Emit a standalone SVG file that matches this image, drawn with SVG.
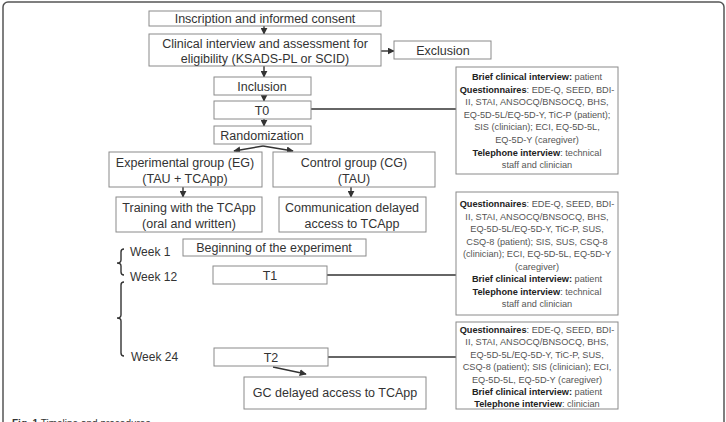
<svg xmlns="http://www.w3.org/2000/svg" width="726" height="422" viewBox="0 0 726 422">
<style>
.bx{fill:#fff;stroke:#8a8a8a;stroke-width:1}
.t{font-family:"Liberation Sans",Arial,sans-serif;font-size:12.5px;fill:#333;text-anchor:middle}
.s{font-family:"Liberation Sans",Arial,sans-serif;font-size:9.2px;fill:#555;text-anchor:middle}
.s tspan.b{font-weight:bold;fill:#222}
.w{font-family:"Liberation Sans",Arial,sans-serif;font-size:12px;fill:#333}
.c{stroke:#333;stroke-width:1.4;fill:none}
.br{stroke:#333;stroke-width:1.4;fill:none}
</style>
<defs>
<marker id="ah" viewBox="0 0 10 10" refX="9" refY="5" markerWidth="5" markerHeight="5" orient="auto">
<path d="M0,0 L10,5 L0,10 z" fill="#333"/>
</marker>
</defs>
<rect x="3" y="2" width="721" height="440" rx="5" fill="#fff" stroke="#555" stroke-width="1.5"/>

<g id="connectors">
<line class="c" x1="264" y1="26" x2="264" y2="34" marker-end="url(#ah)"/>
<line class="c" x1="381" y1="51" x2="394" y2="51" marker-end="url(#ah)"/>
<line class="c" x1="264" y1="66" x2="264" y2="77" marker-end="url(#ah)"/>
<line class="c" x1="264" y1="95" x2="264" y2="101" marker-end="url(#ah)"/>
<line class="c" x1="264" y1="119" x2="264" y2="126" marker-end="url(#ah)"/>
<line class="c" x1="311" y1="109" x2="456" y2="109"/>
<line class="c" x1="263" y1="146" x2="234" y2="151" marker-end="url(#ah)"/>
<line class="c" x1="263" y1="146" x2="293" y2="151" marker-end="url(#ah)"/>
<line class="c" x1="183" y1="187" x2="183" y2="197" marker-end="url(#ah)"/>
<line class="c" x1="351" y1="187" x2="351" y2="197" marker-end="url(#ah)"/>
<line class="c" x1="327" y1="275" x2="456" y2="275"/>
<line class="c" x1="328" y1="357" x2="456" y2="357"/>
<line class="c" x1="273" y1="367" x2="306" y2="374" marker-end="url(#ah)"/>
<path class="br" d="M124,249 Q121,249 121,252 L121,260 Q121,263 117,263 Q121,263 121,266 L121,272 Q121,275 124,275"/>
<path class="br" d="M124,282 Q121,282 121,285 L121,315 Q121,318 117,318 Q121,318 121,321 L121,353 Q121,356 124,356"/>
</g>

<g id="inscription"><rect class="bx" x="149" y="11" width="232" height="15"/><text class="t" x="265" y="23">Inscription and informed consent</text></g>
<g id="clinical"><rect class="bx" x="149" y="34" width="232" height="32"/><text class="t" x="265" y="48">Clinical interview and assessment for</text><text class="t" x="265" y="63">eligibility (KSADS-PL or SCID)</text></g>
<g id="exclusion"><rect class="bx" x="394" y="41" width="97" height="18"/><text class="t" x="443" y="55">Exclusion</text></g>
<g id="inclusion"><rect class="bx" x="214" y="77" width="97" height="18"/><text class="t" x="262" y="91">Inclusion</text></g>
<g id="t0"><rect class="bx" x="214" y="101" width="97" height="18"/><text class="t" x="262" y="115">T0</text></g>
<g id="randomization"><rect class="bx" x="214" y="126" width="97" height="18"/><text class="t" x="262" y="140">Randomization</text></g>
<g id="eg"><rect class="bx" x="109" y="152" width="153" height="35"/><text class="t" x="185" y="167">Experimental group (EG)</text><text class="t" x="185" y="183">(TAU + TCApp)</text></g>
<g id="cg"><rect class="bx" x="273" y="152" width="162" height="35"/><text class="t" x="354" y="167">Control group (CG)</text><text class="t" x="354" y="183">(TAU)</text></g>
<g id="training"><rect class="bx" x="116" y="197" width="146" height="35"/><text class="t" x="189" y="212">Training with the TCApp</text><text class="t" x="189" y="228">(oral and written)</text></g>
<g id="communication"><rect class="bx" x="279" y="197" width="147" height="35"/><text class="t" x="352" y="212">Communication delayed</text><text class="t" x="352" y="228">access to TCApp</text></g>
<g id="week1"><text class="w" x="130" y="256">Week 1</text></g>
<g id="beginning"><rect class="bx" x="183" y="239" width="183" height="17"/><text class="t" x="274" y="252">Beginning of the experiment</text></g>
<g id="week12"><text class="w" x="130" y="281">Week 12</text></g>
<g id="t1"><rect class="bx" x="213" y="266" width="114" height="18"/><text class="t" x="270" y="280">T1</text></g>
<g id="week24"><text class="w" x="131" y="361">Week 24</text></g>
<g id="t2"><rect class="bx" x="214" y="348" width="114" height="18"/><text class="t" x="271" y="362">T2</text></g>
<g id="gc"><rect class="bx" x="244" y="377" width="182" height="32"/><text class="t" x="335" y="397">GC delayed access to TCApp</text></g>

<g id="info-t0"><rect class="bx" x="456" y="67" width="162" height="107"/>
<text class="s" x="537" y="80"><tspan class="b">Brief clinical interview:</tspan> patient</text>
<text class="s" x="537" y="92.6"><tspan class="b">Questionnaires</tspan>: EDE-Q, SEED, BDI-</text>
<text class="s" x="537" y="105.2">II, STAI, ANSOCQ/BNSOCQ, BHS,</text>
<text class="s" x="537" y="117.8">EQ-5D-5L/EQ-5D-Y, TiC-P (patient);</text>
<text class="s" x="537" y="130.4">SIS (clinician); ECI, EQ-5D-5L,</text>
<text class="s" x="537" y="143">EQ-5D-Y (caregiver)</text>
<text class="s" x="537" y="155.6"><tspan class="b">Telephone interview</tspan>: technical</text>
<text class="s" x="537" y="168.2">staff and clinician</text>
</g>
<g id="info-t1"><rect class="bx" x="456" y="192" width="162" height="123"/>
<text class="s" x="537" y="207"><tspan class="b">Questionnaires</tspan>: EDE-Q, SEED, BDI-</text>
<text class="s" x="537" y="219.5">II, STAI, ANSOCQ/BNSOCQ, BHS,</text>
<text class="s" x="537" y="232">EQ-5D-5L/EQ-5D-Y, TiC-P, SUS,</text>
<text class="s" x="537" y="244.5">CSQ-8 (patient); SIS, SUS, CSQ-8</text>
<text class="s" x="537" y="257">(clinician); ECI, EQ-5D-5L, EQ-5D-Y</text>
<text class="s" x="537" y="269.5">(caregiver)</text>
<text class="s" x="537" y="282"><tspan class="b">Brief clinical interview:</tspan> patient</text>
<text class="s" x="537" y="294.5"><tspan class="b">Telephone interview</tspan>: technical</text>
<text class="s" x="537" y="307">staff and clinician</text>
</g>
<g id="info-t2"><rect class="bx" x="456" y="322" width="162" height="87"/>
<text class="s" x="537" y="332.5"><tspan class="b">Questionnaires</tspan>: EDE-Q, SEED, BDI-</text>
<text class="s" x="537" y="345">II, STAI, ANSOCQ/BNSOCQ, BHS,</text>
<text class="s" x="537" y="357.5">EQ-5D-5L/EQ-5D-Y, TiC-P, SUS,</text>
<text class="s" x="537" y="370">CSQ-8 (patient); SIS (clinician); ECI,</text>
<text class="s" x="537" y="382.5">EQ-5D-5L, EQ-5D-Y (caregiver)</text>
<text class="s" x="537" y="395"><tspan class="b">Brief clinical interview:</tspan> patient</text>
<text class="s" x="537" y="407"><tspan class="b">Telephone interview</tspan>: clinician</text>
</g>

<text x="12" y="426.5" font-family="Liberation Sans,Arial,sans-serif" font-size="10" fill="#333"><tspan font-weight="bold">Fig. 1</tspan> Timeline and procedures</text>
</svg>
